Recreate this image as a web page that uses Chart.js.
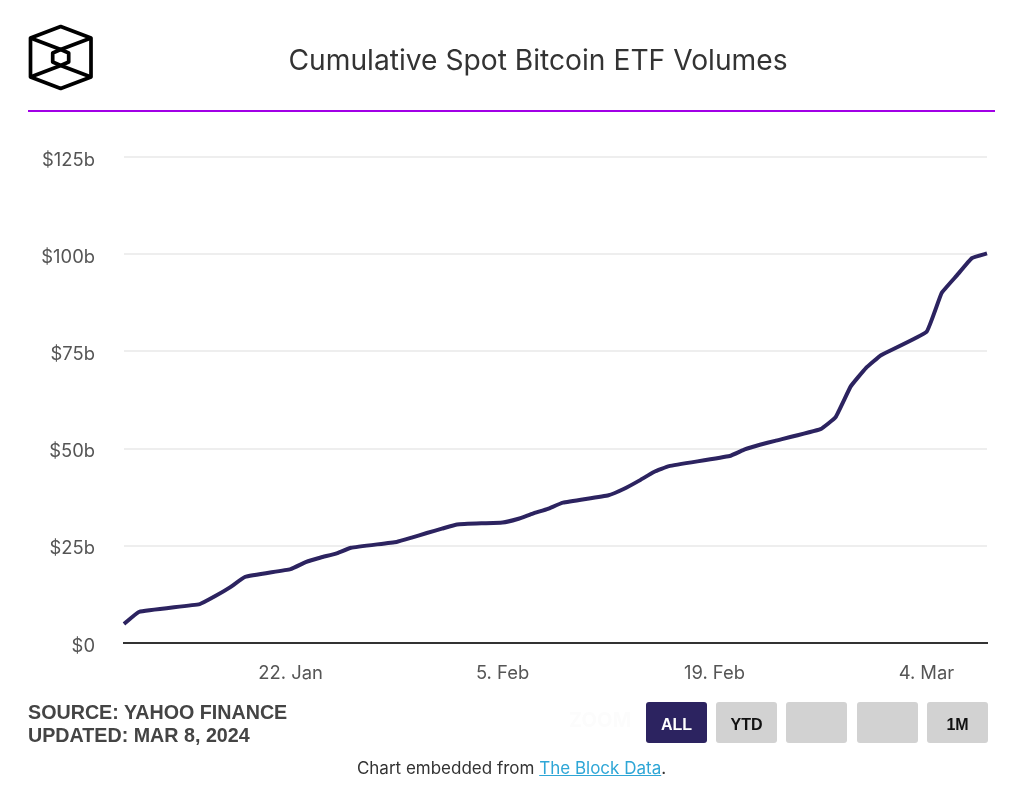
<!DOCTYPE html>
<html>
<head>
<meta charset="utf-8">
<title>Cumulative Spot Bitcoin ETF Volumes</title>
<script src="https://cdn.jsdelivr.net/npm/chart.js@4/dist/chart.umd.min.js"></script>
<style>
    html, body { margin: 0; padding: 0; background: #fff; }
    body { position: relative; width: 1024px; height: 790px; overflow: hidden; font-family: Inter, "Noto Sans", sans-serif; }
    #chart-box { position: absolute; left: 0; top: 0; width: 1024px; height: 790px; }
    #logo { position: absolute; left: 0; top: 0; }
    #title { position: absolute; left: 83px; width: 910px; top: 42px; text-align: center; font-size: 28.2px; line-height: 36px; color: #333; }
    #rule { position: absolute; left: 28px; width: 967px; top: 110px; height: 2px; background: #a100e6; }
    #source { position: absolute; left: 28px; top: 701px; font-family: "Liberation Sans", sans-serif; font-size: 19.7px; line-height: 23px; font-weight: 700; color: #444; }
    #zoom-label { position: absolute; left: 569px; top: 709px; font-size: 20px; line-height: 22px; font-weight: 700; color: #fcfcfc; }
    .btn { position: absolute; top: 702px; width: 61px; height: 41px; border-radius: 3px; background: #d2d2d2; color: #111; font-family: "Liberation Sans", sans-serif; font-size: 16px; font-weight: 700; line-height: 45px; text-align: center; }
    .btn.active { background: #2c2360; color: #fff; }
    #embed { position: absolute; left: 0; width: 1023px; top: 758px; text-align: center; font-size: 17px; line-height: 20px; color: #333; }
    #embed a { color: #2ea6d6; }
</style>
</head>
<body>
<div id="chart-box"><canvas id="volumeChart"></canvas></div>
<svg id="logo" width="120" height="100" fill="none" stroke="#000" stroke-width="3.7" stroke-linejoin="round">
    <path d="M60.7 26.5 L91 38 V77 L60.7 88.5 L30.5 77 V38 Z"/>
    <path d="M30.5 38 L60.7 49.5 L91 38"/>
    <path d="M30.5 77 L60.7 65.5 L91 77"/>
    <path d="M60.7 49.5 L68.7 53 V62 L60.7 65.5 L52.7 62 V53 Z"/>
</svg>
<div id="title">Cumulative Spot Bitcoin ETF Volumes</div>
<div id="rule"></div>
<div id="source">SOURCE: YAHOO FINANCE<br>UPDATED: MAR 8, 2024</div>
<div id="zoom-label">ZOOM</div>
<div class="btn active" style="left:646px">ALL</div>
<div class="btn" style="left:716px">YTD</div>
<div class="btn" style="left:786px"></div>
<div class="btn" style="left:857px"></div>
<div class="btn" style="left:927px">1M</div>
<div id="embed">Chart embedded from <a href="#">The Block Data</a>.</div>

<script>
const tradingDays = [
    '2024-01-11', '2024-01-12', '2024-01-16', '2024-01-17', '2024-01-18', '2024-01-19',
    '2024-01-22', '2024-01-23', '2024-01-24', '2024-01-25', '2024-01-26',
    '2024-01-29', '2024-01-30', '2024-01-31', '2024-02-01', '2024-02-02',
    '2024-02-05', '2024-02-06', '2024-02-07', '2024-02-08', '2024-02-09',
    '2024-02-12', '2024-02-13', '2024-02-14', '2024-02-15', '2024-02-16',
    '2024-02-20', '2024-02-21', '2024-02-22', '2024-02-23',
    '2024-02-26', '2024-02-27', '2024-02-28', '2024-02-29', '2024-03-01',
    '2024-03-04', '2024-03-05', '2024-03-06', '2024-03-07', '2024-03-08'
];
const cumulativeVolume = [
    4.9, 8.0, 10.0, 12.0, 14.3, 17.0,
    19.0, 20.8, 22.0, 23.0, 24.5,
    26.0, 27.1, 28.3, 29.4, 30.5,
    31.0, 31.9, 33.3, 34.5, 36.1,
    38.0, 39.6, 41.7, 44.0, 45.5,
    48.1, 49.8, 51.0, 52.0,
    55.0, 58.1, 66.0, 70.7, 74.0,
    80.0, 90.0, 94.5, 99.0, 100.2
];
const xTickDays = ['2024-01-22', '2024-02-05', '2024-02-19', '2024-03-04'];
const xTickLabels = ['22. Jan', '5. Feb', '19. Feb', '4. Mar'];
const yTicks = [0, 25, 50, 75, 100, 125];

const toTime = (day) => new Date(day + 'T00:00:00Z').getTime();
const tickFont = { family: 'Inter', size: 18.4, weight: '400' };

document.addEventListener('DOMContentLoaded', () => {
    new Chart(document.getElementById('volumeChart'), {
        type: 'line',
        data: {
            datasets: [{
                data: tradingDays.map((day, i) => ({ x: toTime(day), y: cumulativeVolume[i] })),
                borderColor: '#2c2360',
                borderWidth: 4,
                pointRadius: 0,
                tension: 0.1,
                clip: false
            }]
        },
        options: {
            responsive: true,
            maintainAspectRatio: false,
            animation: false,
            events: [],
            layout: { padding: { top: 157, right: 37, bottom: 0, left: 0 } },
            plugins: { legend: { display: false }, tooltip: { enabled: false } },
            scales: {
                x: {
                    type: 'linear',
                    min: toTime(tradingDays[0]),
                    max: toTime(tradingDays[tradingDays.length - 1]),
                    afterBuildTicks: (axis) => { axis.ticks = xTickDays.map(day => ({ value: toTime(day) })); },
                    afterFit: (axis) => { axis.height = 147; },
                    grid: { display: false, drawTicks: false },
                    border: { color: '#333', width: 2 },
                    ticks: {
                        color: '#555',
                        font: tickFont,
                        padding: 19,
                        maxRotation: 0,
                        autoSkip: false,
                        callback: (value) => xTickLabels[xTickDays.findIndex(day => toTime(day) === value)]
                    }
                },
                y: {
                    min: 0,
                    max: 125,
                    afterBuildTicks: (axis) => { axis.ticks = yTicks.map(value => ({ value })); },
                    afterFit: (axis) => { axis.width = 124; },
                    grid: { color: '#eeeeee', lineWidth: 2, drawTicks: false },
                    border: { display: false },
                    ticks: {
                        color: '#555',
                        font: tickFont,
                        padding: 29,
                        labelOffset: 3,
                        callback: (value) => '$' + value + (value === 0 ? '' : 'b')
                    }
                }
            }
        }
    });
});
</script>
</body>
</html>
